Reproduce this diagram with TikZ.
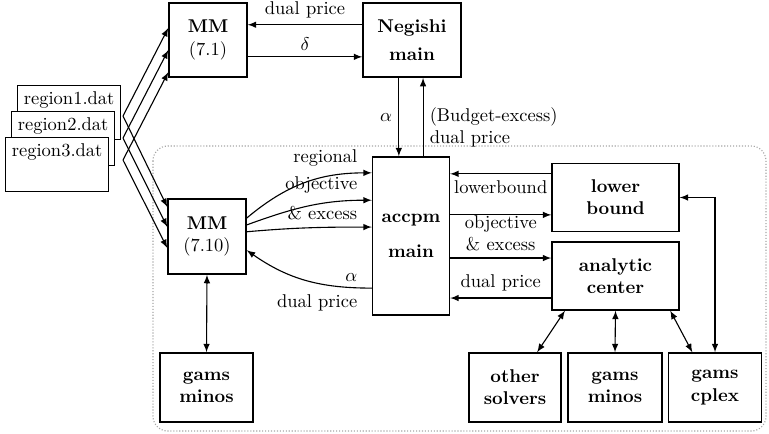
\documentclass[tikz,border=0pt]{standalone}
\usetikzlibrary{positioning, arrows.meta}
\tikzstyle{block}=[draw,thick,fill=white,rectangle,font=\bfseries,align=center,inner sep=1pt]
\tikzstyle{card}=[draw,fill=white,rectangle,anchor=north west,minimum width=19.6mm,text depth=15.5pt]
\tikzstyle{every node}=[font=\normalsize]

\begin{document}
\begin{tikzpicture}[>=latex, x=0.19mm, y=-0.19mm, semithick]
    \useasboundingbox (0,0) rectangle (769,433);
    % frame round the accpm part
    \draw[gray!70, densely dotted, rounded corners=8pt] (153,146) rectangle (766,431);

    % data files
    \node[card] (r1) at (17,85) {region1.dat};
    \node[card] (r2) at (11,111) {region2.dat};
    \node[card] (r3) at (5,137) {region3.dat};
    \coordinate (s1) at (123,116);
    \coordinate (s2) at (123,138);
    \coordinate (s3) at (123,160);

    \node[block, minimum width=14.8mm, minimum height=14.1mm] (mmtop) at (208,40) {MM\\\mdseries (7.1)};
    \node[block, minimum width=18.6mm, minimum height=14.1mm] (negishi) at (412,40) {Negishi\\[1mm]main};
    \node[block, minimum width=14.8mm, minimum height=14.25mm] (mmbot) at (207,236.5) {MM\\\mdseries (7.10)};
    \node[block, minimum width=14.6mm, minimum height=30mm] (accpm) at (411,236) {accpm\\[2.5mm]main};
    \node[block, minimum width=24.1mm, minimum height=12.9mm] (lb) at (615.5,197.5) {lower\\bound};
    \node[block, minimum width=24.1mm, minimum height=12.9mm, below of=lb, node distance=14.9mm] (ac) {analytic\\center};
    \node[block, minimum width=17.7mm, minimum height=13.1mm] (gmL) at (206.5,387.5) {gams\\minos};
    \node[block, minimum width=17.5mm, minimum height=13.1mm] (other) at (515,387.5) {other\\solvers};
    \node[block, minimum width=17.8mm, minimum height=13.1mm, right of=other, node distance=1.9cm] (gmR) {gams\\minos};
    \node[block, minimum width=17.7mm, minimum height=13.1mm, right of=gmR, node distance=1.9cm] (cplex) {gams\\cplex};

    \foreach \i/\a/\b in {1/2.3mm/5.6mm, 2/-1.9mm/1.8mm, 3/-6.1mm/-2.2mm} {
        \draw[->] (s\i) -- ([yshift=\a]mmtop.west);
        \draw[->] (s\i) -- ([yshift=\b]mmbot.west);
    }

    % Negishi loop
    \draw[->] ([yshift=2.9mm]negishi.west) -- node[above] {dual price} ([yshift=2.9mm]mmtop.east);
    \draw[->] ([yshift=-3.2mm]mmtop.east) -- node[above] {$\delta$} ([yshift=-3.2mm]negishi.west);
    \draw[->] ([xshift=-2.5mm]negishi.south) -- node[left] {$\alpha$} ([xshift=-2.5mm]negishi.south |- accpm.north);
    \draw[->] ([xshift=2.1mm]negishi.south |- accpm.north) -- node[right, pos=0.37, align=left] {(Budget-excess)\\dual price} ([xshift=2.1mm]negishi.south);

    % accpm and the regional model
    \draw[->] ([yshift=3.5mm]mmbot.east) to[out=40,in=180] node[at end, anchor=south east, xshift=-1.5mm] {regional} ([yshift=12mm]accpm.west);
    \draw[->] ([yshift=2.2mm]mmbot.east) to[out=20,in=180] node[at end, anchor=south east, xshift=-1.5mm] {objective} ([yshift=6.8mm]accpm.west);
    \draw[->] ([yshift=0.9mm]mmbot.east) to[out=5,in=180] node[at end, anchor=south east, xshift=-1.5mm] {\& excess} ([yshift=1.7mm]accpm.west);
    \draw[->] ([yshift=-9.9mm]accpm.west) to[out=180,in=-35]
        node[at start, anchor=south east, xshift=-1.5mm] {$\alpha$}
        node[at start, anchor=north east, xshift=-1.5mm] {dual price} ([yshift=-2.6mm]mmbot.east);
    \draw[<->] (mmbot.south) -- (gmL.north);

    % oracles
    \draw[->] ([yshift=4.5mm]lb.west) -- node[below] {lowerbound} ([yshift=4.5mm]lb.west -| accpm.east);
    \draw[->] ([yshift=-3.3mm]lb.west -| accpm.east) -- ([yshift=-3.3mm]lb.west);
    \draw[->] ([yshift=3.4mm]ac.west -| accpm.east) -- node[above, align=center] {objective\\\& excess} ([yshift=3.4mm]ac.west);
    \draw[->] ([yshift=-4.2mm]ac.west) -- node[above] {dual price} ([yshift=-4.2mm]ac.west -| accpm.east);
    \draw[<->] (cplex.north) |- (lb.east);
    \draw[<->] ([xshift=-9.6mm]ac.south) -- ([xshift=4.2mm]other.north);
    \draw[<->] (ac.south) -- (gmR.north);
    \draw[<->] ([xshift=10.4mm]ac.south) -- ([xshift=-4.3mm]cplex.north);
\end{tikzpicture}
\end{document}
